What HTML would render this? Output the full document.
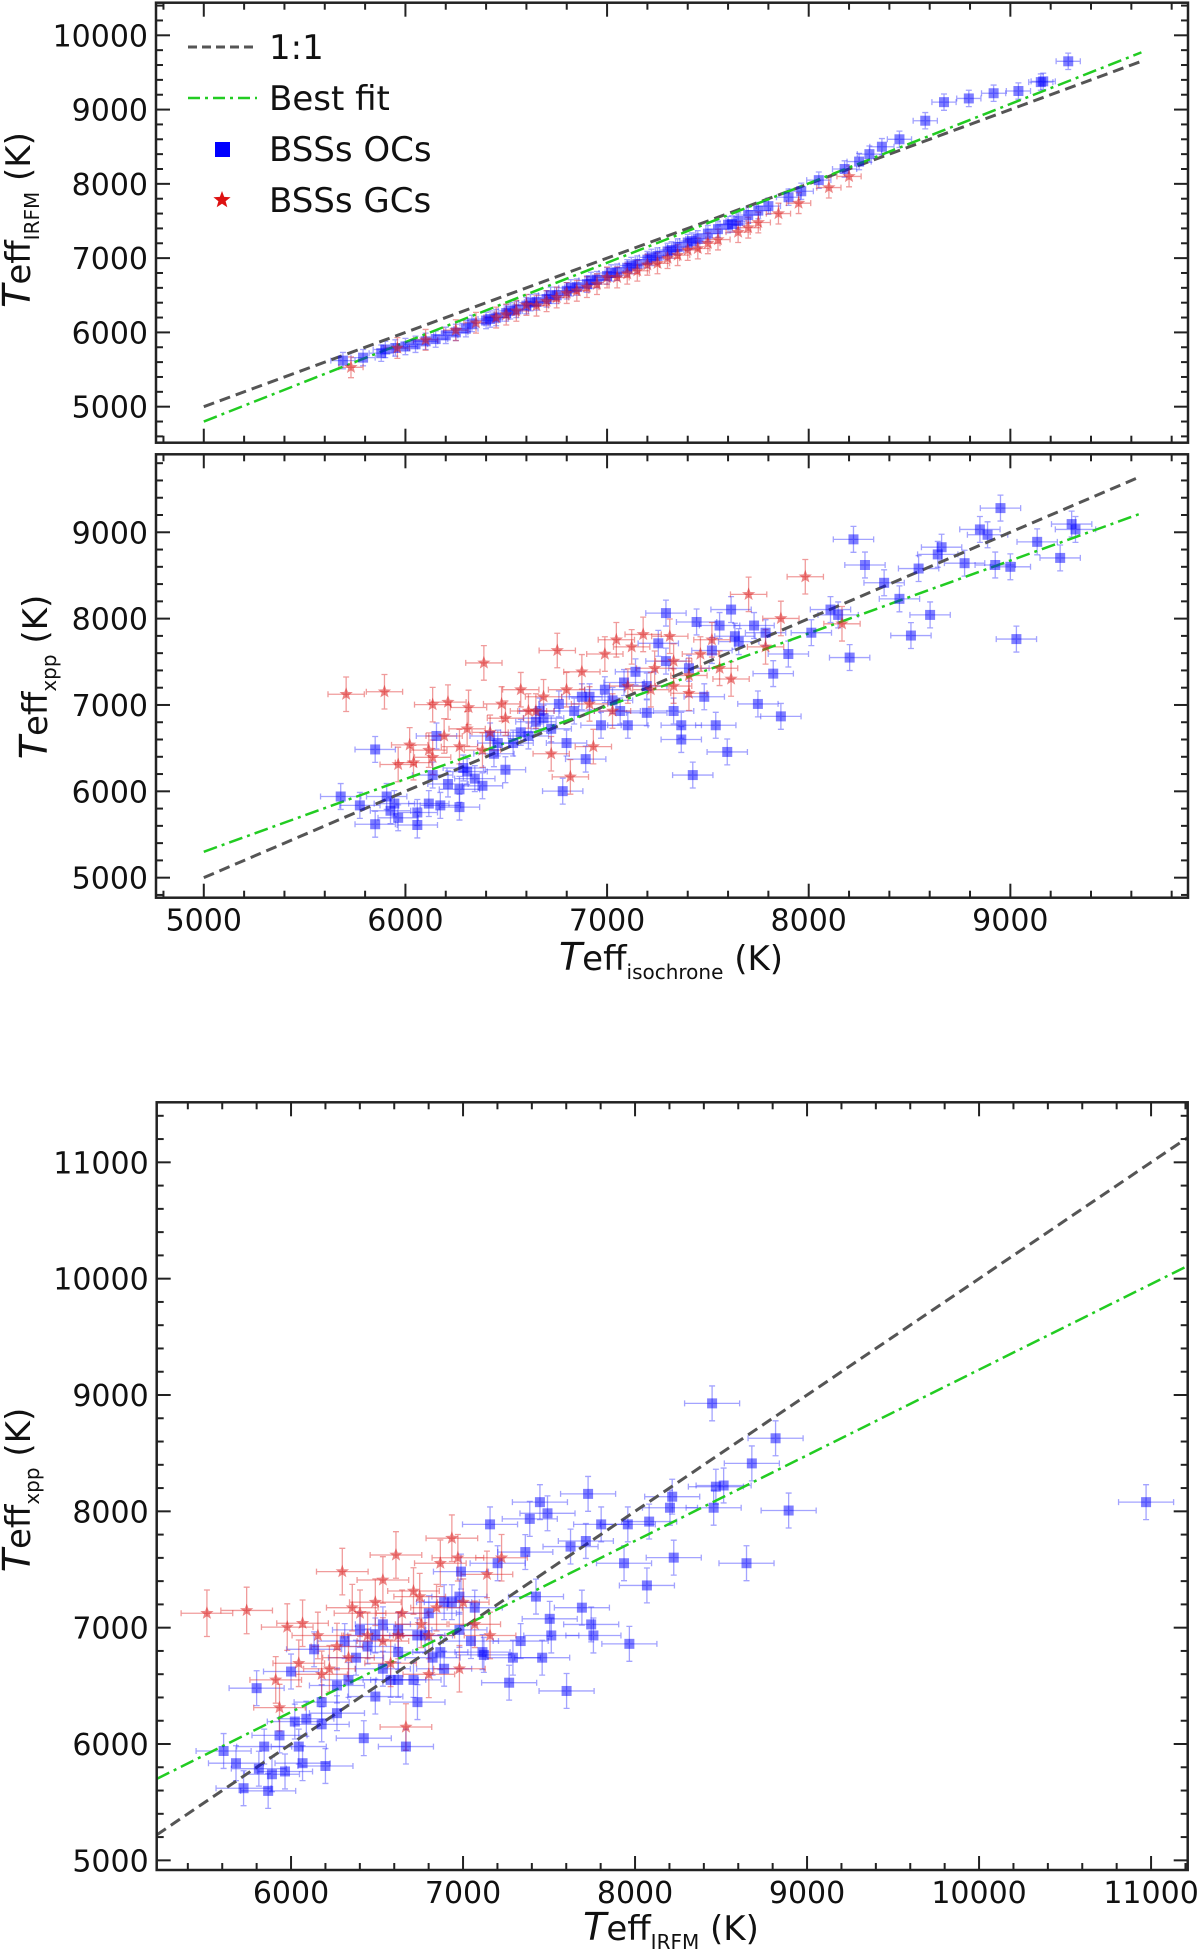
<!DOCTYPE html>
<html><head><meta charset="utf-8"><style>
html,body{margin:0;padding:0;background:#fff;}
svg{display:block;font-family:"DejaVu Sans","Liberation Sans",sans-serif;}
</style></head><body>
<svg id="fig" width="1200" height="1951" viewBox="0 0 1200 1951" xmlns="http://www.w3.org/2000/svg"></svg>
<script>
// ---------- Panel 1: Teff_isochrone vs Teff_IRFM ----------
const p1BlueX=[5690,5790,5880,5900,5950,6000,6050,6100,6150,6200,6250,6300,6330,6400,6450,6500,6550,6600,6650,6700,6750,6800,6850,6900,6950,7000,7050,7100,7150,7200,7250,7300,7350,7400,7450,7500,7550,7600,7650,7700,7750,7800,7900,7963,8050,8178,8250,8301,8363,8450,8578,8671,8794,8917,9040,9151,9163,9287,6420,6620,6820,7020,7220,7420,7620,6520,6720,6920,7120,7320];
const p1BlueY=[5620,5660,5720,5770,5790,5810,5840,5880,5910,5960,6000,6050,6120,6160,6200,6260,6310,6360,6410,6450,6500,6560,6610,6650,6710,6760,6810,6870,6920,6980,7030,7090,7150,7210,7260,7330,7390,7450,7500,7580,7640,7700,7820,7900,8050,8200,8300,8400,8500,8600,8850,9100,9150,9220,9250,9370,9380,9650,6180,6400,6600,6800,7010,7230,7460,6290,6500,6700,6900,7110];
const p1RedX=[5730,5960,6100,6250,6350,6450,6550,6650,6750,6850,6950,7050,7150,7250,7350,7450,7550,7650,7750,7850,7950,8100,8200,6500,6700,6900,7100,7300,7500,7700,6600,6800,7000,7200,7400];
const p1RedY=[5530,5790,5900,6030,6130,6200,6290,6360,6470,6560,6650,6740,6830,6930,7040,7130,7250,7350,7480,7600,7740,7950,8100,6240,6420,6610,6790,7000,7200,7410,6370,6530,6740,6910,7110];
const p1Fit=[4800,9770];   // best-fit y at x = 5000 and 9650
// ---------- Panel 2: Teff_isochrone vs Teff_xpp ----------
const p2BlueX=[5679,5850,5850,5774,5907,5926,5945,5964,6059,6059,6116,6135,6154,6173,6211,6268,6287,6306,6382,6420,6439,6496,6534,6572,6647,6666,6723,6780,6799,6837,6894,6913,6970,7027,7065,7103,7141,7197,7254,7292,7330,7368,7368,7425,7444,7482,7539,7558,7596,7615,7653,7748,7824,7862,7899,8013,8108,8146,8203,8222,8279,8374,8450,8507,8545,8602,8640,8659,8773,8849,8887,8925,8951,9000,9030,9133,9247,9304,9323,6268,6344,6458,6610,6685,6761,6875,6989,7084,7197,7292,7406,7520,7634,7729,7786];
const p2BlueY=[5940,6485,5619,5837,5940,5775,5858,5693,5610,5755,5858,6188,6641,5837,6085,5817,6270,6229,6064,6641,6435,6250,6559,6683,6806,6930,6724,6002,6559,6930,6373,7095,6765,7053,6930,6765,7384,6909,7714,8064,6930,6765,6600,6188,7961,7095,6765,7920,6456,8105,7734,7012,7363,6868,7590,7837,8105,8043,7549,8918,8621,8415,8229,7804,8580,8043,8744,8827,8642,9033,8971,8621,9280,8600,7763,8889,8703,9095,9033,6023,6147,6559,6641,6847,7012,7095,7177,7260,7219,7508,7425,7631,7796,7920,7837];
const p2RedX=[5706,5896,6135,6211,6389,5964,6040,6021,6135,6268,6313,6420,6477,6572,6647,6753,6723,6818,6875,6932,6989,7046,7122,7179,7236,7311,7330,7406,7463,7520,7615,7702,7786,7862,7983,8165,6496,6610,6685,6799,6913,7027,7103,7217,7330,7406,7558,6306,6382,6192,6116];
const p2RedY=[7124,7153,7004,7033,7487,6311,6332,6538,6394,6518,6971,6683,7012,7177,6930,7631,6435,6167,7384,6518,7590,7755,7673,7817,7425,7796,7219,7136,7590,7755,7301,8281,7673,8002,8485,7940,6847,6930,7095,7177,7012,6930,7219,7177,7508,7342,7425,6724,6477,6641,6477];
const p2Fit=[5300,9220];
// ---------- Panel 3: Teff_IRFM vs Teff_xpp ----------
const p3BlueX=[5608,5680,5724,5800,5813,5844,5867,5889,5933,5965,6000,6022,6067,6134,6178,6200,6267,6334,6378,6423,6490,6534,6579,6623,6668,6712,6735,6779,6823,6868,6935,6988,7046,7121,7157,7201,7268,7290,7362,7388,7424,7447,7460,7491,7504,7602,7625,7691,7714,7727,7745,7758,7803,7936,7958,7967,8069,8082,8203,8216,8225,8448,8457,8470,8515,8648,8679,8817,8893,10971,6312,6401,6445,6534,6623,6734,6801,6890,6979,7068,6979,6890,6623,6490,6267,6178,6089,6045,7113,7335,7513];
const p3BlueY=[5940,5835,5620,6480,5788,5978,5597,5740,6074,5764,6623,6193,5835,6814,6169,5811,6265,6551,6742,6050,6933,6647,6551,6790,5978,6551,6360,6933,6742,6790,7219,7482,6885,6766,7888,7554,6527,6742,7650,7935,7267,8079,6742,7983,7076,6456,7697,7172,7745,8150,7028,6933,7888,7554,7888,6861,7363,7912,8031,8126,7602,8928,8031,8212,8222,7554,8412,8628,8007,8079,6885,6981,6838,7029,6981,6933,7124,7219,7267,7172,6981,6647,6551,6408,6503,6360,6217,5978,6790,6885,6933];
const p3RedX=[5511,5742,5978,6067,6298,6610,5911,5933,6045,6156,6223,6334,6401,6490,6534,6579,6668,6646,6712,6757,6801,6868,6935,6970,7001,7068,7139,7224,6748,6623,6445,6267,6178,6801,6979,7157,6534,6356,6846];
const p3RedY=[7124,7148,7005,7038,7482,7625,6551,6313,6694,6933,6647,6742,7124,7219,6885,6694,6146,7124,7315,7029,6933,7554,7769,7601,7219,7029,7458,7601,7267,6933,6933,6838,6599,6599,6647,6933,7410,7172,7172];
const p3Fit=[5700,10110]; // best-fit y at x = 5219 and 11213

const NS="http://www.w3.org/2000/svg";
const svg=document.getElementById('fig');
function el(tag,attrs,parent){const e=document.createElementNS(NS,tag);for(const k in attrs)e.setAttribute(k,attrs[k]);(parent||svg).appendChild(e);return e;}
function scale(d0,d1,r0,r1){return v=>r0+(v-d0)/(d1-d0)*(r1-r0);}

function panel(name,box,xd,yd,xTicks,yTicks,showX){
  const g=el('g',{});
  
  
  const sx=scale(xd[0],xd[1],box.l,box.r), sy=scale(yd[0],yd[1],box.b,box.t);
  const clipId=name+'-clip';
  const cp=el('clipPath',{id:clipId},g);el('rect',{x:box.l,y:box.t,width:box.r-box.l,height:box.b-box.t},cp);
  const plot=el('g',{'clip-path':'url(#'+clipId+')'},g);
  
  
  const tg=el('g',{stroke:'#222','stroke-width':2},g);
  
  
  for(let v=Math.ceil(xd[0]/200)*200;v<=xd[1];v+=200){const major=v%1000===0,L=major?14:7,x=sx(v);
    el('line',{x1:x,x2:x,y1:box.b,y2:box.b-L},tg);el('line',{x1:x,x2:x,y1:box.t,y2:box.t+L},tg);}
  for(let v=Math.ceil(yd[0]/200)*200;v<=yd[1];v+=200){const major=v%1000===0,L=major?14:7,y=sy(v);
    el('line',{x1:box.l,x2:box.l+L,y1:y,y2:y},tg);el('line',{x1:box.r,x2:box.r-L,y1:y,y2:y},tg);}
  yTicks.forEach(v=>{const t=el('text',{x:box.l-8,y:sy(v)+11,'text-anchor':'end','font-size':30,fill:'#111'},g);t.textContent=v;
    
    });
  if(showX)xTicks.forEach(v=>{const t=el('text',{x:sx(v),y:box.b+33,'text-anchor':'middle','font-size':30,fill:'#111'},g);t.textContent=v;
    
    });
  const fr=el('rect',{x:box.l,y:box.t,width:box.r-box.l,height:box.b-box.t,fill:'none',stroke:'#222','stroke-width':2.5},g);
  
  
  return {g:plot,sx,sy};
}
function errBars(P,X,Y,xe,ye,col,parent){
  for(let i=0;i<X.length;i++){const x=P.sx(X[i]),y=P.sy(Y[i]);
    const x0=P.sx(X[i]-xe),x1=P.sx(X[i]+xe),y0=P.sy(Y[i]-ye),y1=P.sy(Y[i]+ye);
    const e=el('path',{d:`M${x0},${y}H${x1}M${x},${y0}V${y1}M${x0},${y-3}V${y+3}M${x1},${y-3}V${y+3}M${x-3},${y0}H${x+3}M${x-3},${y1}H${x+3}`,stroke:col,'stroke-width':1.3,'stroke-opacity':0.45,fill:'none'},parent);
    
    }
}
function squares(P,X,Y,parent){
  for(let i=0;i<X.length;i++){const s=el('rect',{x:P.sx(X[i])-5,y:P.sy(Y[i])-5,width:10,height:10,fill:'#0000ff','fill-opacity':0.5},parent);
    
    }
}
function starPath(cx,cy,r){let d='';for(let k=0;k<10;k++){const a=-Math.PI/2+k*Math.PI/5,rr=k%2?r*0.42:r;d+=(k?'L':'M')+(cx+rr*Math.cos(a)).toFixed(1)+','+(cy+rr*Math.sin(a)).toFixed(1);}return d+'Z';}
function stars(P,X,Y,parent,col){
  for(let i=0;i<X.length;i++){const s=el('path',{d:starPath(P.sx(X[i]),P.sy(Y[i]),7),fill:col||'#dd2222','fill-opacity':0.55},parent);
    
    }
}
function lines(P,xa,xb,fit){
  const a=el('line',{x1:P.sx(xa),y1:P.sy(xa),x2:P.sx(xb),y2:P.sy(xb),stroke:'#555','stroke-width':3,'stroke-dasharray':'11,6'},P.g);
  
  
  const b=el('line',{x1:P.sx(xa),y1:P.sy(fit[0]),x2:P.sx(xb),y2:P.sy(fit[1]),stroke:'#22cc22','stroke-width':2.5,'stroke-dasharray':'14,5,3,5'},P.g);
  
  
}
function label(x,y,sub,rot,name){
  const t=el('text',{x:x,y:y,'text-anchor':'middle','font-size':34,fill:'#111',transform:rot?`rotate(-90 ${x} ${y})`:''});
  
  
  const a=el('tspan',{'font-style':'italic','font-size':38},t);a.textContent='T';
  const b=el('tspan',{'font-style':'normal'},t);b.textContent='eff';
  const c=el('tspan',{'font-size':20,dy:9,'font-style':'normal'},t);c.textContent=sub;
  const d=el('tspan',{dy:-9,'font-style':'normal'},t);d.textContent=' (K)';
}

const X1=[5000,6000,7000,8000,9000];
const P1=panel('panel-irfm-vs-isochrone',{l:156,r:1188,t:2.7,b:442.7},[4763,9881],[4515,10439],X1,[5000,6000,7000,8000,9000,10000],false);
errBars(P1,p1BlueX,p1BlueY,60,110,'#3333ff',P1.g);errBars(P1,p1RedX,p1RedY,60,140,'#dd2222',P1.g);
lines(P1,5000,9650,p1Fit);
squares(P1,p1BlueX,p1BlueY,P1.g);stars(P1,p1RedX,p1RedY,P1.g);

const P2=panel('panel-xpp-vs-isochrone',{l:156,r:1188,t:454.3,b:897.7},[4763,9881],[4768,9903],X1,[5000,6000,7000,8000,9000],true);
errBars(P2,p2BlueX,p2BlueY,100,150,'#3333ff',P2.g);errBars(P2,p2RedX,p2RedY,90,200,'#dd2222',P2.g);
lines(P2,5000,9650,p2Fit);
squares(P2,p2BlueX,p2BlueY,P2.g);stars(P2,p2RedX,p2RedY,P2.g);

const P3=panel('panel-xpp-vs-irfm',{l:156.7,r:1187.7,t:1102.3,b:1870},[5219,11213],[4917,11516],[6000,7000,8000,9000,10000,11000],[5000,6000,7000,8000,9000,10000,11000],true);
errBars(P3,p3BlueX,p3BlueY,160,150,'#3333ff',P3.g);errBars(P3,p3RedX,p3RedY,150,200,'#dd2222',P3.g);
lines(P3,5219,11213,p3Fit);
squares(P3,p3BlueX,p3BlueY,P3.g);stars(P3,p3RedX,p3RedY,P3.g);

label(30,220,'IRFM',true,'y-axis-title-irfm');
label(47,677,'xpp',true,'y-axis-title-xpp');
label(671,970,'isochrone',false,'x-axis-title-isochrone');
label(30,1490,'xpp',true,'y-axis-title-xpp-bottom');
label(671,1940,'IRFM',false,'x-axis-title-irfm');

const lg=el('g',{});


el('line',{x1:188,x2:257,y1:47,y2:47,stroke:'#555','stroke-width':3,'stroke-dasharray':'9,5'},lg);
el('line',{x1:188,x2:257,y1:98,y2:98,stroke:'#22cc22','stroke-width':2.5,'stroke-dasharray':'12,5,3,5'},lg);
el('rect',{x:215,y:142,width:15,height:15,fill:'#0000ff'},lg);
el('path',{d:starPath(222,200,9),fill:'#dd1111'},lg);
[['1:1',59,'legend-entry-one-to-one'],['Best fit',110,'legend-entry-best-fit'],['BSSs OCs',161,'legend-entry-ocs'],['BSSs GCs',212,'legend-entry-gcs']].forEach(a=>{
  const t=el('text',{x:269,y:a[1],'font-size':34,fill:'#111'},lg);t.textContent=a[0];
  
  
});
</script>
</body></html>
